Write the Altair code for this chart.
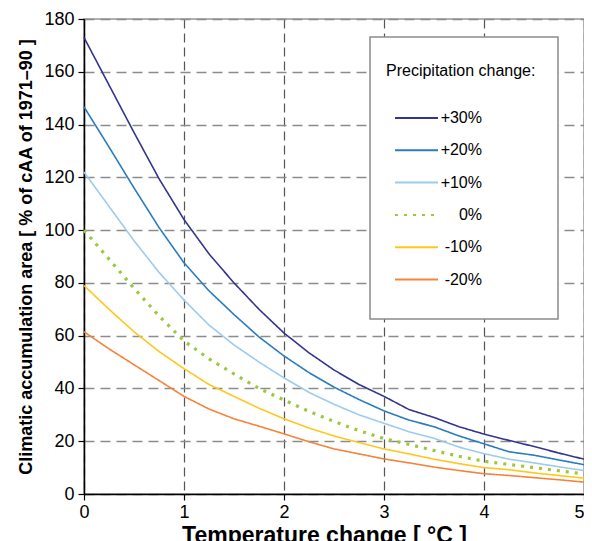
import altair as alt
import pandas as pd

temps = [0, 0.25, 0.5, 0.75, 1, 1.25, 1.5, 1.75, 2, 2.25, 2.5, 2.75, 3, 3.25, 3.5, 3.75, 4, 4.25, 4.5, 4.75, 5]

p30 = [173, 155, 137, 119.5, 104, 91, 80, 70, 61, 53.5, 47, 41.5, 37, 32, 29, 25.5, 22.7, 20.3, 18, 15.5, 13.2]
p20 = [146.7, 131.5, 116, 101, 87.6, 77, 68, 59.5, 52.3, 46, 40.5, 35.8, 31.5, 28, 25.5, 22, 19, 16, 14.7, 12.9, 11.1]
p10 = [122, 109, 96, 84, 73.5, 64, 56.5, 50, 44, 38.5, 34, 30, 26.8, 23.6, 21.1, 17.8, 15.3, 13.2, 11.8, 10.3, 8.9]
p00 = [100, 89, 78, 67.5, 58, 51.2, 45.5, 40, 35.6, 31.3, 27.5, 24, 21, 18.8, 16.5, 14.3, 12.4, 11.2, 10, 8.8, 7.6]
m10 = [79, 70, 61.5, 54, 47.5, 41.5, 37, 32.5, 28.5, 25, 22, 19.5, 17.1, 15.2, 13.2, 11.5, 10, 9.2, 8, 7, 6]
m20 = [61.5, 55, 49, 43, 37, 32.2, 28.5, 25.7, 22.8, 19.8, 17.1, 15.2, 13.3, 11.8, 10.2, 8.9, 7.7, 7, 6.2, 5.4, 4.5]

series_names = ["+30%", "+20%", "+10%", "0%", "-10%", "-20%"]
series_values = [p30, p20, p10, p00, m10, m20]
colors = ["#34358f", "#2a7cc1", "#9ecbeb", "#9cc93c", "#ffc71c", "#f5843a"]
dashes = [[1, 0], [1, 0], [1, 0], [3, 6], [1, 0], [1, 0]]
widths = [1.6, 1.6, 1.6, 3.2, 1.6, 1.6]

rows = []
for name, vals, w in zip(series_names, series_values, widths):
    for t, v in zip(temps, vals):
        rows.append({"T": t, "value": v, "series": name, "w": w})
df = pd.DataFrame(rows)

legend = alt.Legend(
    orient="none", legendX=302, legendY=44,
    title="Precipitation change:", titleFont="Liberation Sans", titleFontSize=16,
    titleFontWeight="normal", titleColor="black", titlePadding=31,
    labelFont="Liberation Sans", labelFontSize=16, labelColor="black",
    labelAlign="right", labelOffset=43,
    rowPadding=16.3, symbolType="stroke", symbolSize=1849, symbolOffset=8,
    symbolStrokeWidth=2, clipHeight=16, padding=0,
)

x_axis = alt.Axis(
    values=[0, 1, 2, 3, 4, 5], format="d", title="Temperature change [ °C ]",
    titleFontSize=23, titlePadding=3, titleX=240, tickSize=6, labelPadding=3, labelFlush=False,
    labelAlign={"expr": "datum.value >= 5 ? 'right' : 'center'"},
    gridDash=[9, 5], gridColor="#555555", gridWidth=1.2,
)
y_axis = alt.Axis(
    values=list(range(0, 181, 20)),
    title="Climatic accumulation area [ % of cAA of 1971\u201390 ]",
    titleFontSize=18, titlePadding=8, tickSize=6, labelPadding=4,
    gridDash=[10, 6], gridColor="#8c8c8c", gridWidth=1.6,
)

lines = alt.Chart(df).mark_line().encode(
    x=alt.X("T:Q", scale=alt.Scale(domain=[0, 5], nice=False), axis=x_axis),
    y=alt.Y("value:Q", scale=alt.Scale(domain=[0, 180], nice=False), axis=y_axis),
    color=alt.Color("series:N", scale=alt.Scale(domain=series_names, range=colors), legend=legend),
    strokeDash=alt.StrokeDash("series:N", scale=alt.Scale(domain=series_names, range=dashes), legend=legend),
    strokeWidth=alt.StrokeWidth("w:Q", scale=None, legend=None),
    order="T:Q",
)

box = alt.Chart(pd.DataFrame({"a": [0]})).mark_rect(
    fill="white", stroke="#8c8c8c", strokeWidth=1.5
).encode(
    x=alt.value(286), x2=alt.value(474), y=alt.value(18), y2=alt.value(300)
)

chart = alt.layer(box, lines).properties(
    width=500, height=475,
    autosize=alt.AutoSizeParams(type="none"),
    padding={"left": 76, "top": 11, "right": 0, "bottom": 60},
).configure_view(
    stroke="#b0b0b0", strokeWidth=1.8
).configure_axis(
    domainColor="black", domainWidth=1.5, tickColor="black", tickWidth=1.2,
    labelFont="Liberation Sans", labelFontSize=18, labelColor="black",
    titleFont="Liberation Sans", titleFontWeight="bold", titleColor="black",
)

chart.save("out.html", embed_options={"renderer": "svg", "actions": False})
